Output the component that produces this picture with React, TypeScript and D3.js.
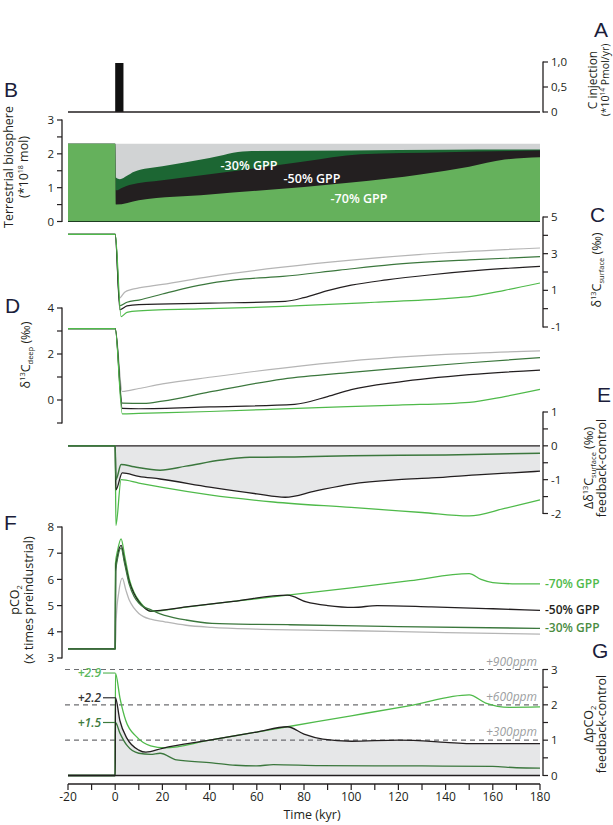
import * as d3 from "d3";

type Pt = [number, number];

// time axis (kyr)
const TIME_TICKS = [-20, -10, 0, 10, 20, 30, 40, 50, 60, 70, 80, 90, 100, 110, 120, 130, 140, 150, 160, 170, 180];
const TIME_LABELS = [-20, 0, 20, 40, 60, 80, 100, 120, 140, 160, 180];

// A: carbon injection pulse
const INJ_START = 0;
const INJ_END = 3.5;
const INJ_RATE = 0.98;

// B: terrestrial biosphere (1e18 mol)
const B_CTRL: Pt[] = [[-20, 2.3], [180, 2.3]];
const B_GPP30: Pt[] = [[-20, 2.3], [0, 2.3], [0.3, 1.3], [2, 1.25], [5, 1.35], [8, 1.47], [20, 1.63], [40, 1.88], [56, 2.08], [100, 2.1], [140, 2.12], [180, 2.13]];
const B_GPP50: Pt[] = [[-20, 2.3], [0, 2.3], [0.3, 0.92], [3, 1.0], [6, 1.08], [20, 1.22], [40, 1.4], [60, 1.58], [80, 1.77], [104, 1.99], [140, 2.05], [180, 2.1]];
const B_GPP70: Pt[] = [[-20, 2.3], [0, 2.3], [0.3, 0.5], [10, 0.63], [40, 0.8], [80, 1.02], [100, 1.15], [130, 1.4], [150, 1.62], [165, 1.83], [180, 1.9]];

// C: surface d13C (permil)
const C_CTRL: Pt[] = [[-20, 4.05], [0, 4.05], [1.8, 0.58], [4, 0.9], [7, 1.05], [10, 1.13], [20, 1.32], [40, 1.75], [70, 2.25], [100, 2.65], [140, 3.05], [180, 3.31]];
const C_GPP30: Pt[] = [[-20, 4.05], [0, 4.05], [2, 0.16], [5, 0.35], [10, 0.47], [20, 0.8], [30, 1.12], [40, 1.38], [55, 1.62], [71, 1.76], [95, 2.1], [117, 2.4], [150, 2.66], [180, 2.84]];
const C_GPP50: Pt[] = [[-20, 4.05], [0, 4.05], [2, -0.06], [5, 0.15], [10, 0.22], [40, 0.3], [72, 0.4], [80, 0.6], [90, 0.98], [100, 1.28], [115, 1.57], [134, 1.85], [155, 2.1], [180, 2.31]];
const C_GPP70: Pt[] = [[-20, 4.05], [0, 4.05], [2.5, -0.43], [5, -0.2], [10, -0.12], [40, 0.0], [71, 0.12], [110, 0.35], [140, 0.55], [151, 0.67], [165, 1.0], [180, 1.4]];

// D: deep d13C (permil)
const D_CTRL: Pt[] = [[-20, 3.1], [0, 3.1], [3, 0.37], [10, 0.5], [20, 0.7], [41, 1.0], [71, 1.39], [100, 1.7], [140, 1.98], [180, 2.14]];
const D_GPP30: Pt[] = [[-20, 3.1], [0, 3.1], [3, -0.14], [12, -0.15], [20, -0.05], [40, 0.35], [71, 0.91], [100, 1.2], [117, 1.35], [150, 1.62], [180, 1.84]];
const D_GPP50: Pt[] = [[-20, 3.1], [0, 3.1], [3, -0.36], [10, -0.38], [40, -0.3], [76, -0.19], [90, 0.15], [100, 0.45], [120, 0.78], [150, 1.1], [180, 1.3]];
const D_GPP70: Pt[] = [[-20, 3.1], [0, 3.1], [3, -0.6], [10, -0.58], [40, -0.5], [80, -0.35], [120, -0.22], [150, -0.1], [165, 0.15], [180, 0.46]];

// E: surface d13C difference, feedback minus control
const E_GPP30: Pt[] = [[-20, 0], [0, 0], [0.3, -1.0], [2.5, -0.55], [8, -0.62], [19, -0.72], [30, -0.6], [45, -0.42], [57, -0.34], [80, -0.32], [100, -0.29], [140, -0.27], [180, -0.22]];
const E_GPP50: Pt[] = [[-20, 0], [0, 0], [0.3, -1.3], [3, -0.8], [10, -0.9], [19, -0.98], [40, -1.22], [60, -1.42], [72, -1.52], [85, -1.33], [100, -1.13], [120, -1.0], [134, -0.95], [155, -0.85], [180, -0.75]];
const E_GPP70: Pt[] = [[-20, 0], [0, 0], [0.3, -2.35], [2.5, -1.0], [10, -1.1], [20, -1.23], [40, -1.45], [67, -1.66], [100, -1.82], [130, -1.97], [150, -2.07], [165, -1.85], [180, -1.6]];

// F: pCO2 (x preindustrial)
const F_CTRL: Pt[] = [[-20, 3.35], [0, 3.35], [0.5, 4.6], [1.5, 5.5], [3, 6.05], [4.5, 5.6], [6, 5.2], [8, 4.9], [10, 4.7], [12, 4.58], [15, 4.48], [21, 4.38], [30, 4.25], [41, 4.17], [60, 4.1], [101, 4.04], [140, 3.97], [180, 3.91]];
const F_GPP30: Pt[] = [[-20, 3.35], [0, 3.35], [0.2, 6.3], [1, 6.8], [2.5, 7.2], [4, 6.6], [6, 5.8], [8, 5.35], [10, 5.1], [12, 4.95], [15, 4.85], [18, 4.72], [21, 4.63], [30, 4.45], [41, 4.32], [60, 4.28], [74, 4.27], [120, 4.2], [180, 4.13]];
const F_GPP50: Pt[] = [[-20, 3.35], [0, 3.35], [0.2, 6.4], [1, 6.9], [2.5, 7.3], [4, 6.7], [6, 5.9], [8, 5.45], [10, 5.15], [12, 4.95], [15, 4.79], [30, 4.95], [50, 5.16], [73, 5.4], [81, 5.14], [90, 5.0], [101, 4.93], [111, 5.0], [134, 4.95], [160, 4.88], [180, 4.82]];
const F_GPP70: Pt[] = [[-20, 3.35], [0, 3.35], [0.1, 6.6], [1, 7.1], [2.5, 7.55], [4, 6.9], [6, 6.0], [8, 5.5], [10, 5.2], [12, 4.98], [15, 4.78], [30, 4.94], [50, 5.16], [73, 5.4], [100, 5.68], [125, 5.95], [150, 6.22], [155, 6.0], [160, 5.88], [170, 5.83], [180, 5.83]];

// G: pCO2 difference, feedback minus control
const G_GPP30: Pt[] = [[-20, 0], [0, 0], [0.1, 1.5], [2, 1.2], [5, 0.85], [10, 0.63], [15, 0.6], [19, 0.63], [26, 0.44], [41, 0.36], [51, 0.29], [60, 0.27], [67, 0.31], [87, 0.28], [130, 0.27], [160, 0.26], [170, 0.22], [180, 0.21]];
const G_GPP50: Pt[] = [[-20, 0], [0, 0], [0.1, 2.2], [2, 1.55], [5, 1.05], [10, 0.72], [13, 0.66], [20, 0.77], [40, 1.0], [60, 1.23], [73, 1.38], [80, 1.17], [88, 1.03], [100, 0.97], [120, 1.0], [140, 0.94], [150, 0.9], [180, 0.9]];
const G_GPP70: Pt[] = [[-20, 0], [0, 0], [0.1, 2.9], [2, 2.2], [4.5, 1.55], [9, 1.1], [15, 0.84], [21, 0.78], [40, 1.0], [60, 1.23], [73, 1.38], [100, 1.69], [125, 1.98], [150, 2.28], [157, 2.05], [167, 1.93], [180, 1.94]];
const G_PEAKS = [2.9, 2.2, 1.5];
const G_PEAK_LABELS = ["+2.9", "+2.2", "+1.5"];
const PPM_LEVELS = [3, 2, 1];
const PPM_LABELS = ["+900ppm", "+600ppm", "+300ppm"];

const SCENARIOS = ["-70% GPP", "-50% GPP", "-30% GPP"];

const FONT = "'Open Sans', 'Noto Sans', Arial, sans-serif";
const INK = "#231f20";
const GRAY_LINE = "#b5b5b5";
const DKGREEN_LINE = "#3b773d";
const GREEN_LINE = "#4fba4a";
const FILL_GRAY = "#d1d3d4";
const FILL_DKGREEN = "#1c6633";
const FILL_GREEN = "#65b15c";
const FILL_LIGHT = "#e6e7e8";

const x = d3.scaleLinear().domain([-20, 180]).range([68, 540]);
const yA = d3.scaleLinear().domain([0, 1]).range([112, 62]);
const yB = d3.scaleLinear().domain([0, 3]).range([221.5, 120]);
const yC = d3.scaleLinear().domain([-1, 5]).range([327, 217]);
const yD = d3.scaleLinear().domain([-1, 4]).range([423, 308]);
const yE = d3.scaleLinear().domain([-2, 1]).range([513.5, 412]);
const yF = d3.scaleLinear().domain([3, 8]).range([658, 527]);
const yG = d3.scaleLinear().domain([0, 3]).range([775.5, 669.5]);

const LEFT_X = 62;
const RIGHT_X = 543;

type Scale = d3.ScaleLinear<number, number>;

const lineFor = (y: Scale) =>
  d3.line<Pt>().x((d) => x(d[0])).y((d) => y(d[1])).curve(d3.curveMonotoneX);

const areaFor = (y: Scale) =>
  d3.area<Pt>().x((d) => x(d[0])).y0(y(0)).y1((d) => y(d[1])).curve(d3.curveMonotoneX);

function Series({ data, y, color, w = 1.3 }: { data: Pt[]; y: Scale; color: string; w?: number }) {
  return <path d={lineFor(y)(data) ?? ""} fill="none" stroke={color} strokeWidth={w} strokeLinejoin="round" />;
}

function YAxis({ scale, side, ticks, labels }: { scale: Scale; side: "left" | "right"; ticks: number[]; labels: [number, string][] }) {
  const ax = side === "left" ? LEFT_X : RIGHT_X;
  const dir = side === "left" ? -1 : 1;
  const [d0, d1] = scale.domain();
  return (
    <g>
      <line x1={ax} x2={ax} y1={scale(d0) + 0.6} y2={scale(d1) - 0.6} stroke={INK} strokeWidth={1.3} />
      {ticks.map((t) => (
        <line key={t} x1={ax} x2={ax + dir * 5} y1={scale(t)} y2={scale(t)} stroke={INK} strokeWidth={1.2} />
      ))}
      {labels.map(([v, s]) => (
        <text key={s} x={ax + dir * 8} y={scale(v)} dy="0.36em" textAnchor={side === "left" ? "end" : "start"} fontSize={11.5} fill={INK}>
          {s}
        </text>
      ))}
    </g>
  );
}

function VText({ x: tx, y: ty, size = 12.5, children, weight = 500 }: { x: number; y: number; size?: number; children: React.ReactNode; weight?: number }) {
  return (
    <text transform={`translate(${tx},${ty}) rotate(-90)`} textAnchor="middle" fontSize={size} fontWeight={weight} fill={INK}>
      {children}
    </text>
  );
}

function Letter({ x: lx, y: ly, c }: { x: number; y: number; c: string }) {
  return (
    <text x={lx} y={ly} fontSize={21} fill="#1b1d3a" fontFamily="'Liberation Sans', Arial, sans-serif">
      {c}
    </text>
  );
}

export default function App() {
  const x0 = x(-20);
  const x1 = x(180);
  const eFill = areaFor(yE)(E_GPP50.filter((d) => d[0] >= 0)) ?? "";
  const gFill = areaFor(yG)(G_GPP50.filter((d) => d[0] >= 0)) ?? "";
  const fLast = [F_GPP70, F_GPP50, F_GPP30].map((s) => s[s.length - 1][1]);
  const fColors = [GREEN_LINE, INK, "#4a8c3f"];
  const peakColors = ["#5cb85c", "#333333", "#3d7a3d"];

  return (
    <svg width={613} height={825} style={{ position: "absolute", left: 0, top: 0, background: "#fff" }} fontFamily={FONT}>
      {/* A: injection */}
      <rect x={x(INJ_START)} y={yA(INJ_RATE)} width={x(INJ_END) - x(INJ_START)} height={yA(0) - yA(INJ_RATE)} fill="#111" />
      <line x1={x0} x2={x1} y1={yA(0)} y2={yA(0)} stroke={INK} strokeWidth={1.6} />
      <YAxis scale={yA} side="right" ticks={[0, 0.5, 1]} labels={[[1, "1,0"], [0.5, "0,5"], [0, "0"]]} />
      <Letter x={594} y={37} c="A" />
      <VText x={597} y={80} size={12}>
        C injection
      </VText>
      <VText x={609} y={80} size={10.5}>
        (*10<tspan fontSize={6.5} dy={-4}>14</tspan>
        <tspan dy={4}> Pmol/yr)</tspan>
      </VText>

      {/* B: terrestrial biosphere */}
      <path d={areaFor(yB)(B_CTRL) ?? ""} fill={FILL_GRAY} />
      <path d={areaFor(yB)(B_GPP30) ?? ""} fill={FILL_DKGREEN} />
      <path d={areaFor(yB)(B_GPP50) ?? ""} fill={INK} />
      <path d={areaFor(yB)(B_GPP70) ?? ""} fill={FILL_GREEN} />
      <line x1={x0} x2={x1} y1={yB(0)} y2={yB(0)} stroke="#1e3d22" strokeWidth={1} />
      <g fill="#fff" fontSize={12.5} fontWeight={600} textAnchor="middle">
        <text x={249} y={170}>{SCENARIOS[2]}</text>
        <text x={312} y={183}>{SCENARIOS[1]}</text>
        <text x={359} y={203}>{SCENARIOS[0]}</text>
      </g>
      <YAxis scale={yB} side="left" ticks={[0, 0.5, 1, 1.5, 2, 2.5, 3]} labels={[[3, "3"], [2, "2"], [1, "1"], [0, "0"]]} />
      <Letter x={4} y={97} c="B" />
      <VText x={13} y={167}>Terrestrial biosphere</VText>
      <VText x={28} y={167}>
        (*10<tspan fontSize={7} dy={-5}>18</tspan>
        <tspan dy={5}> mol)</tspan>
      </VText>

      {/* C: surface d13C */}
      <Series data={C_CTRL} y={yC} color={GRAY_LINE} w={1.2} />
      <Series data={C_GPP30} y={yC} color={DKGREEN_LINE} w={1.2} />
      <Series data={C_GPP50} y={yC} color={INK} w={1.2} />
      <Series data={C_GPP70} y={yC} color={GREEN_LINE} w={1.2} />
      <YAxis scale={yC} side="right" ticks={[-1, 0, 1, 2, 3, 4, 5]} labels={[[5, "5"], [3, "3"], [1, "1"], [-1, "-1"]]} />
      <Letter x={590} y={222} c="C" />
      <VText x={601} y={270}>
        δ<tspan fontSize={7.5} dy={-5}>13</tspan>
        <tspan dy={5}>C</tspan>
        <tspan fontSize={7.5} dy={3}>surface</tspan>
        <tspan dy={-3}> (‰)</tspan>
      </VText>

      {/* D: deep d13C */}
      <Series data={D_CTRL} y={yD} color={GRAY_LINE} w={1.2} />
      <Series data={D_GPP30} y={yD} color={DKGREEN_LINE} w={1.2} />
      <Series data={D_GPP50} y={yD} color={INK} w={1.2} />
      <Series data={D_GPP70} y={yD} color={GREEN_LINE} w={1.2} />
      <YAxis scale={yD} side="left" ticks={[-1, 0, 1, 2, 3, 4]} labels={[[4, "4"], [2, "2"], [0, "0"]]} />
      <Letter x={5} y={313} c="D" />
      <VText x={30} y={355}>
        δ<tspan fontSize={7.5} dy={-5}>13</tspan>
        <tspan dy={5}>C</tspan>
        <tspan fontSize={7.5} dy={3}>deep</tspan>
        <tspan dy={-3}> (‰)</tspan>
      </VText>

      {/* E: surface d13C difference */}
      <path d={eFill} fill={FILL_LIGHT} />
      <line x1={x(0)} x2={x1} y1={yE(0)} y2={yE(0)} stroke={INK} strokeWidth={1.3} />
      <Series data={E_GPP70} y={yE} color={GREEN_LINE} />
      <Series data={E_GPP50} y={yE} color={INK} />
      <Series data={E_GPP30} y={yE} color={DKGREEN_LINE} w={1.5} />
      <YAxis scale={yE} side="right" ticks={[-2, -1.5, -1, -0.5, 0, 0.5, 1]} labels={[[1, "1"], [0, "0"], [-1, "-1"], [-2, "-2"]]} />
      <Letter x={597} y={402} c="E" />
      <VText x={593} y={468}>
        Δδ<tspan fontSize={7.5} dy={-5}>13</tspan>
        <tspan dy={5}>C</tspan>
        <tspan fontSize={7.5} dy={3}>surface</tspan>
        <tspan dy={-3}> (‰)</tspan>
      </VText>
      <VText x={606} y={468}>feedback-control</VText>

      {/* F: pCO2 */}
      <Series data={F_CTRL} y={yF} color={GRAY_LINE} />
      <Series data={F_GPP70} y={yF} color={GREEN_LINE} />
      <Series data={F_GPP50} y={yF} color={INK} />
      <Series data={F_GPP30} y={yF} color={DKGREEN_LINE} />
      {SCENARIOS.map((s, i) => (
        <text key={s} x={545} y={yF(fLast[i]) + 4} fontSize={12} fontWeight={600} fill={fColors[i]}>
          {s}
        </text>
      ))}
      <YAxis scale={yF} side="left" ticks={[3, 4, 5, 6, 7, 8]} labels={[[8, "8"], [7, "7"], [6, "6"], [5, "5"], [4, "4"], [3, "3"]]} />
      <Letter x={4} y={530} c="F" />
      <VText x={19} y={600}>
        pCO<tspan fontSize={7.5} dy={3}>2</tspan>
      </VText>
      <VText x={33} y={600}>(x times preindustrial)</VText>

      {/* G: pCO2 difference */}
      <path d={gFill} fill={FILL_LIGHT} />
      {PPM_LEVELS.map((v, i) => (
        <g key={v}>
          <line x1={65} x2={x1} y1={yG(v)} y2={yG(v)} stroke="#6d6e71" strokeWidth={1.1} strokeDasharray="5 4" />
          <text x={537} y={yG(v) - 4} textAnchor="end" fontSize={12} fontStyle="italic" fill="#9d9fa2">
            {PPM_LABELS[i]}
          </text>
        </g>
      ))}
      <Series data={G_GPP30} y={yG} color={DKGREEN_LINE} />
      <Series data={G_GPP70} y={yG} color={GREEN_LINE} />
      <Series data={G_GPP50} y={yG} color={INK} />
      <line x1={x0} x2={x1} y1={yG(0)} y2={yG(0)} stroke={INK} strokeWidth={1.6} />
      {G_PEAKS.map((v, i) => (
        <g key={v}>
          <text x={101} y={yG(v)} dy="0.36em" textAnchor="end" fontSize={12} fontStyle="italic" fontWeight={600} fill={peakColors[i]}>
            {G_PEAK_LABELS[i]}
          </text>
          <line x1={103} x2={x(0)} y1={yG(v)} y2={yG(v)} stroke={peakColors[i]} strokeWidth={1.2} />
        </g>
      ))}
      <YAxis scale={yG} side="right" ticks={[0, 0.5, 1, 1.5, 2, 2.5, 3]} labels={[[3, "3"], [2, "2"], [1, "1"], [0, "0"]]} />
      <Letter x={592} y={658} c="G" />
      <VText x={593} y={724}>
        ΔpCO<tspan fontSize={7.5} dy={3}>2</tspan>
      </VText>
      <VText x={606} y={724}>feedback-control</VText>

      {/* time axis */}
      <line x1={x0} x2={x1} y1={784} y2={784} stroke={INK} strokeWidth={1.3} />
      {TIME_TICKS.map((t) => (
        <line key={t} x1={x(t)} x2={x(t)} y1={784} y2={790} stroke={INK} strokeWidth={1.2} />
      ))}
      {TIME_LABELS.map((t) => (
        <text key={t} x={x(t)} y={801} textAnchor="middle" fontSize={12} fontWeight={500} fill={INK}>
          {t}
        </text>
      ))}
      <text x={312} y={819} textAnchor="middle" fontSize={12.5} fill={INK}>
        Time (kyr)
      </text>
    </svg>
  );
}
